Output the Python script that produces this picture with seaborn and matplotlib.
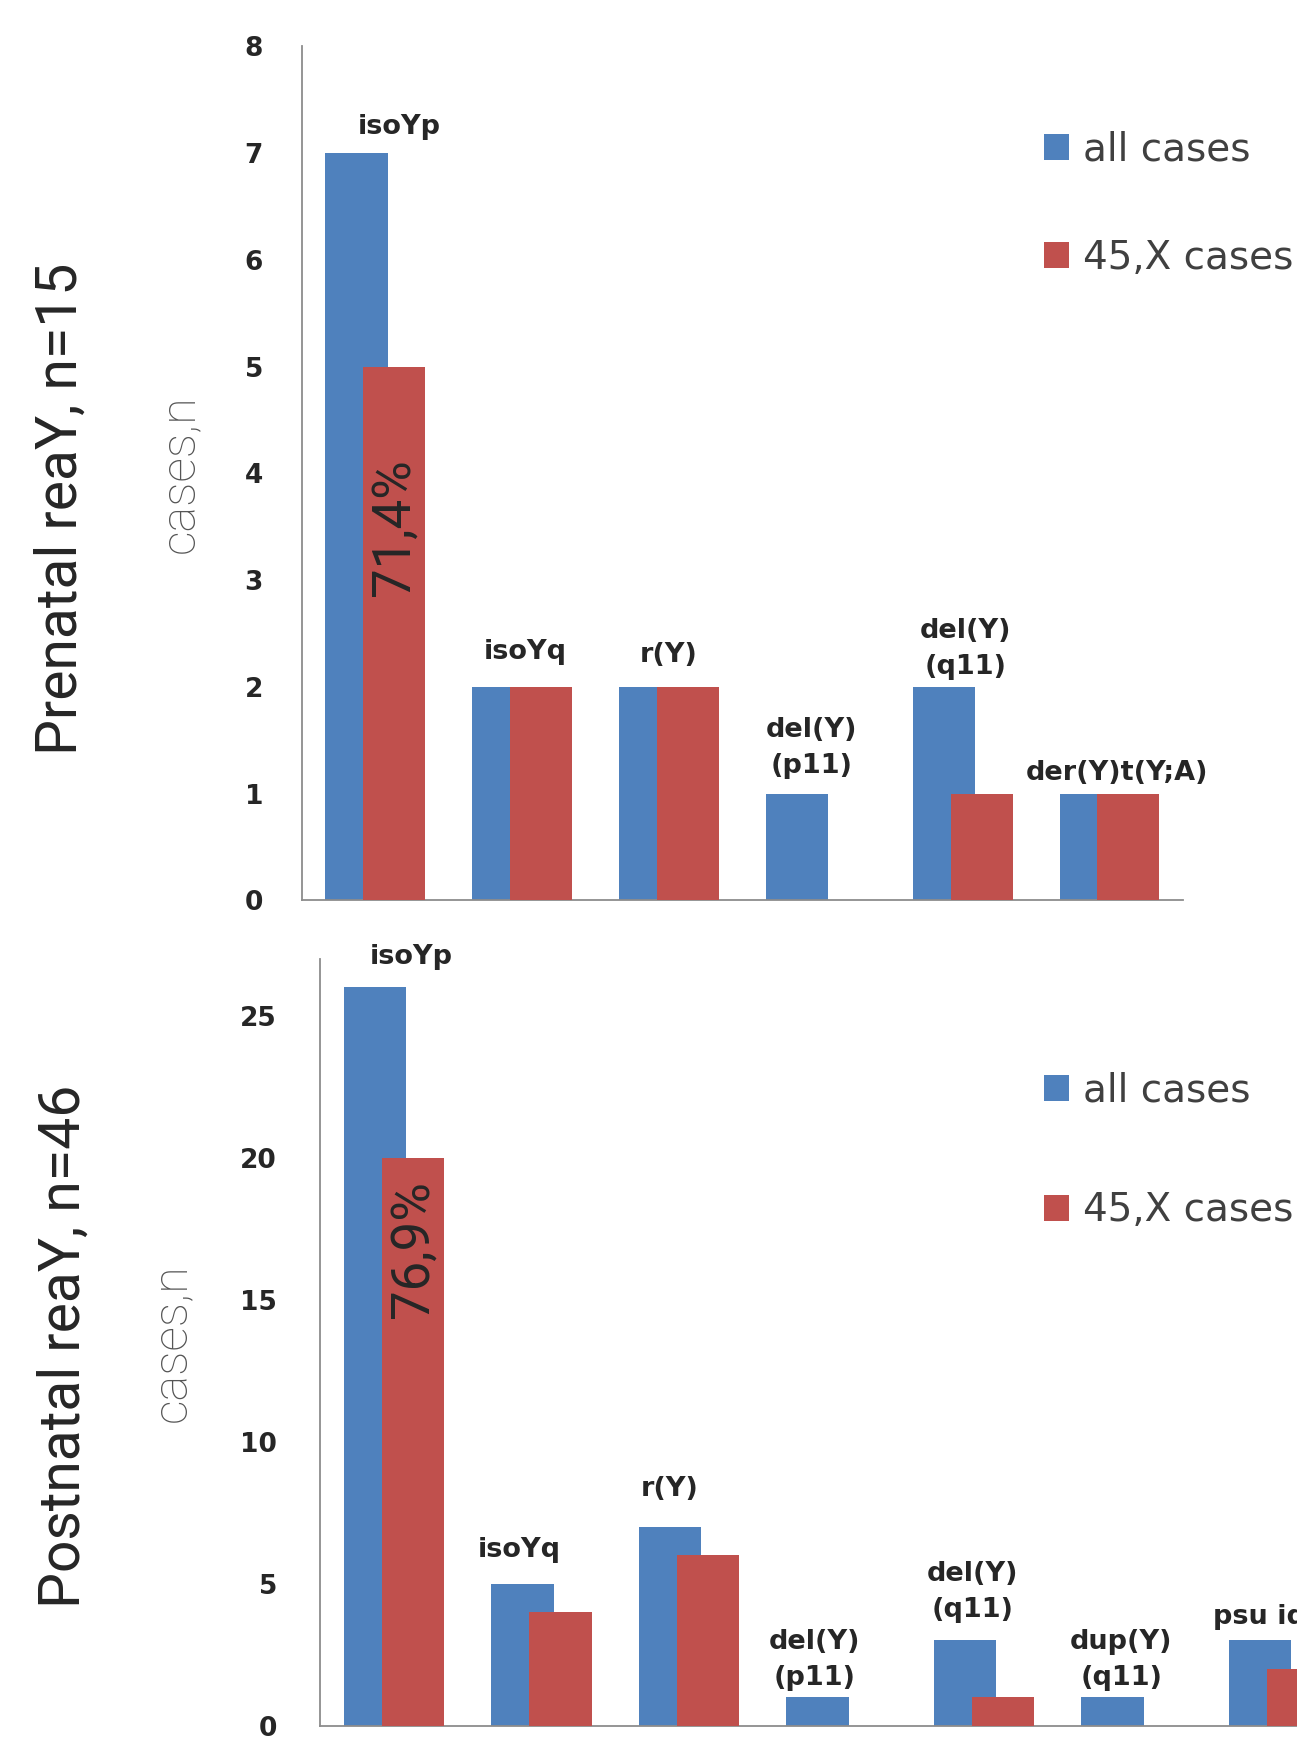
import pandas as pd
import seaborn as sns
from matplotlib import pyplot as plt

series = ["all cases", "45,X cases"]

pre_labels = ["isoYp", "isoYq", "r(Y)", "del(Y)\n(p11)", "del(Y)\n(q11)", "der(Y)t(Y;A)"]
pre_all = [7, 2, 2, 1, 2, 1]
pre_45x = [5, 2, 2, 0, 1, 1]
pre_pct = "71,4%"
pre_ticks = [0, 1, 2, 3, 4, 5, 6, 7, 8]

post_labels = ["isoYp", "isoYq", "r(Y)", "del(Y)\n(p11)", "del(Y)\n(q11)", "dup(Y)\n(q11)", "psu idic(Y)"]
post_all = [26, 5, 7, 1, 3, 1, 3]
post_45x = [20, 4, 6, 0, 1, 0, 2]
post_pct = "76,9%"
post_ticks = [0, 5, 10, 15, 20, 25]

blue = "#4F81BD"
red = "#C0504D"
narrow = ["Roboto", "DejaVu Sans"]

sns.set_style("white")
plt.rcParams["font.family"] = ["DejaVu Sans"]

fig = plt.figure(figsize=(12.97, 17.37), dpi=100)
ax1 = fig.add_axes([0.2328, 0.4816, 0.6793, 0.4917])
ax2 = fig.add_axes([0.2467, 0.0066, 0.7965, 0.4413])


def draw(ax, labels, all_vals, x_vals, pct, pct_y, ymax, ticks, n_slots,
         dx, dy, tick_pad, ylab_x, leg_anchor, leg_space):
    n = len(labels)
    df = pd.DataFrame({
        "kind": labels * 2,
        "cases": all_vals + x_vals,
        "series": [series[0]] * n + [series[1]] * n,
    })
    sns.barplot(data=df, x="kind", y="cases", hue="series", hue_order=series,
                palette=[blue, red], width=0.68, linewidth=0, saturation=1, ax=ax)

    # excel style overlapping bars
    new_w = 0.423
    for bar in ax.containers[0]:
        bar.set_width(new_w)
    for bar in ax.containers[1]:
        right = bar.get_x() + bar.get_width()
        bar.set_x(right - new_w)
        bar.set_width(new_w)
        bar.set_zorder(3)

    for i, (lab, v) in enumerate(zip(labels, all_vals)):
        ax.annotate(lab, xy=(i + dx[i], v), xytext=(0, dy[i]), textcoords="offset points",
                    ha="center", va="center", fontsize=19.5, fontweight="bold",
                    linespacing=1.5, annotation_clip=False, zorder=5)

    first_red = ax.containers[1][0]
    ax.text(first_red.get_x() + first_red.get_width() / 2, pct_y, pct, rotation=90,
            ha="center", va="center", family=narrow, fontsize=38, zorder=5)

    ax.set_ylim(0, ymax)
    ax.set_yticks(ticks)
    ax.set_xlim(-0.5, n_slots - 0.5)
    ax.set_xticks([])
    ax.set_xlabel("")
    ax.set_ylabel("cases,n", family=narrow, fontsize=35, fontweight="light", color="#555555")
    ax.yaxis.set_label_coords(ylab_x, 0.5)
    ax.tick_params(axis="y", length=0, pad=tick_pad, labelsize=19)
    for t in ax.get_yticklabels():
        t.set_fontweight("bold")
    sns.despine(ax=ax)
    for s in ["left", "bottom"]:
        ax.spines[s].set_color("#8c8c8c")
        ax.spines[s].set_linewidth(1.3)

    handles = ax.get_legend().legend_handles
    ax.legend(handles, series, loc="upper left", bbox_to_anchor=leg_anchor,
              bbox_transform=fig.transFigure, frameon=False, fontsize=28,
              labelcolor="#404040", handlelength=0.65, handleheight=0.65,
              handletextpad=0.35, labelspacing=leg_space, borderpad=0, borderaxespad=0)


draw(ax1, pre_labels, pre_all, pre_45x, pre_pct, 3.5, 8, pre_ticks, 6,
     dx=[0.16, 0.02, 0.0, -0.03, 0.02, 0.05],
     dy=[19, 25, 23, 33, 27, 15],
     tick_pad=28, ylab_x=-0.112, leg_anchor=(0.805, 0.925), leg_space=1.82)

draw(ax2, post_labels, post_all, post_45x, post_pct, 16.8, 27, post_ticks, 7,
     dx=[0.12, -0.15, -0.13, -0.15, -0.08, -0.07, 0.1],
     dy=[22, 24, 27, 27, 35, 27, 17],
     tick_pad=31, ylab_x=-0.121, leg_anchor=(0.805, 0.383), leg_space=2.1)

fig.text(61 / 1297, 1 - 509 / 1737, "Prenatal reaY, n=15", rotation=90,
         ha="center", va="center", family=narrow, fontsize=41)
fig.text(64 / 1297, 1 - 1346 / 1737, "Postnatal reaY, n=46", rotation=90,
         ha="center", va="center", family=narrow, fontsize=41)

fig.savefig("out.png", dpi=100)
